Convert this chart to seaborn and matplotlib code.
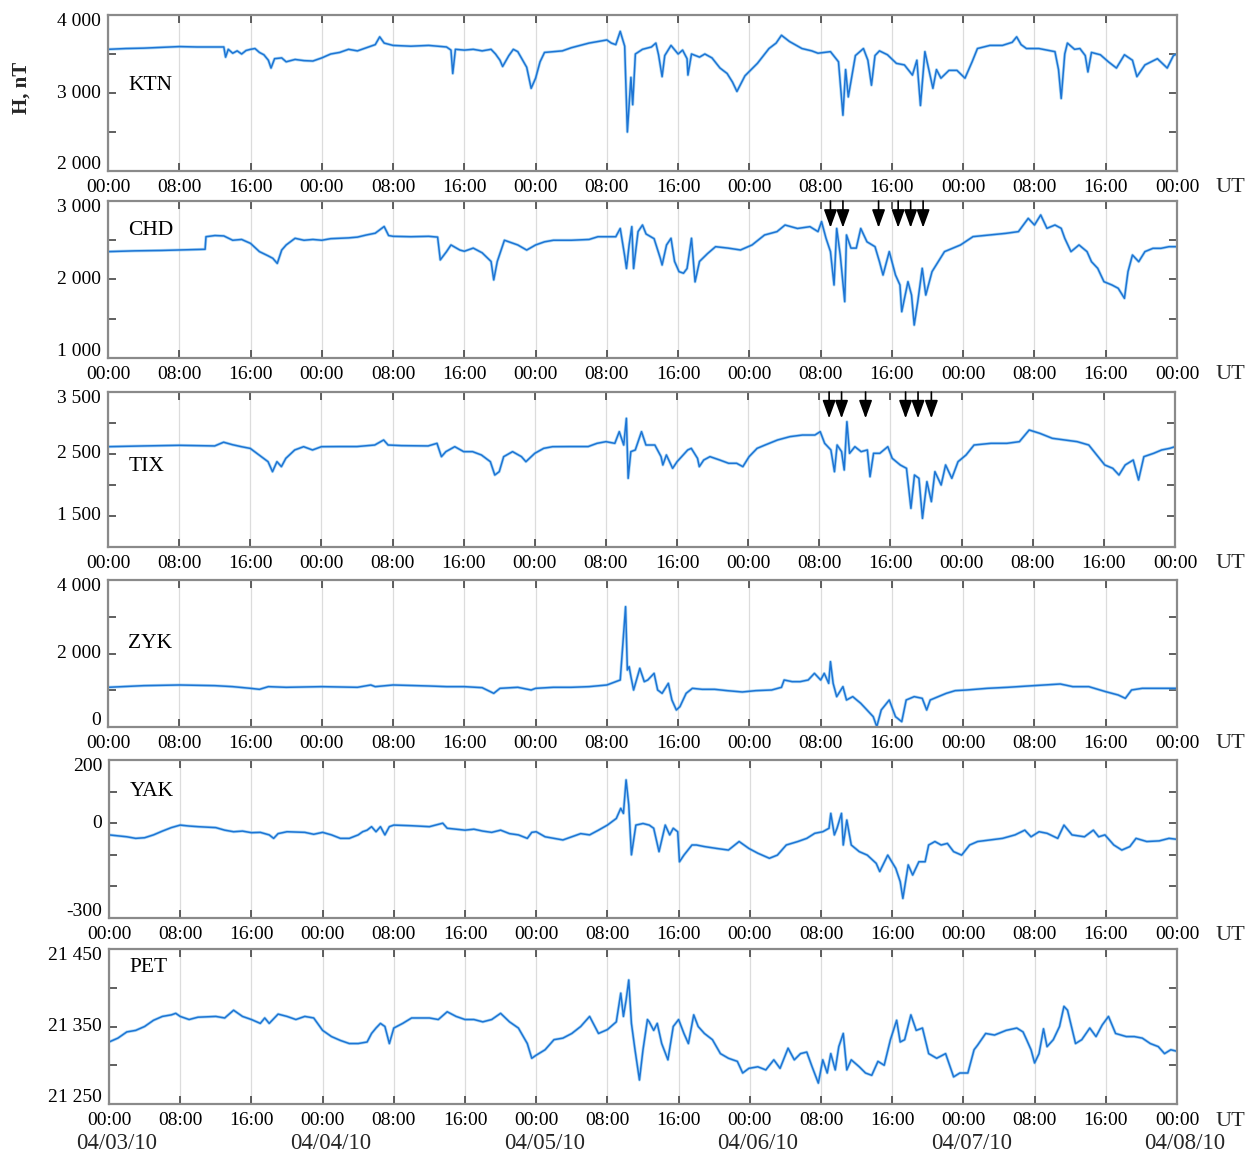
import matplotlib
matplotlib.use("Agg")
import matplotlib.pyplot as plt
import matplotlib.transforms as mtransforms
import seaborn as sns

sns.set_theme(style="white")
plt.rcParams["font.family"] = ["Liberation Serif", "DejaVu Serif"]

# Horizontal component H (nT), hours since 2010-04-03 00:00 UT
ktn = [(0, 3560), (2, 3570), (4, 3575), (6, 3585), (8, 3595), (10, 3590), (12, 3590), (13, 3590),
       (13.2, 3460), (13.5, 3560), (14, 3510), (14.5, 3540), (15, 3500), (15.5, 3545), (16, 3560),
       (16.5, 3570), (17, 3520), (17.5, 3490), (18, 3420), (18.3, 3320), (18.7, 3440), (19.5, 3450),
       (20, 3400), (21, 3430), (22, 3415), (23, 3410), (24, 3450), (25, 3500), (26, 3520), (27, 3560),
       (28, 3540), (29, 3580), (30, 3620), (30.5, 3720), (31, 3640), (32, 3610), (34, 3600), (36, 3610),
       (38, 3590), (38.5, 3550), (38.7, 3250), (39, 3560), (40, 3550), (41, 3560), (42, 3540), (43, 3560),
       (43.5, 3500), (44, 3420), (44.3, 3340), (45, 3480), (45.5, 3560), (46, 3530), (47, 3330),
       (47.5, 3060), (48, 3190), (48.5, 3400), (49, 3520), (50, 3530), (51, 3540), (52, 3580), (53, 3610),
       (54, 3640), (55, 3660), (56, 3680), (56.5, 3640), (57, 3620), (57.5, 3790), (58, 3600), (58.3, 2500),
       (58.7, 3200), (58.9, 2850), (59.2, 3500), (60, 3560), (61, 3590), (61.5, 3640), (61.8, 3490),
       (62.2, 3210), (62.5, 3480), (63.2, 3610), (64, 3500), (64.5, 3550), (65, 3440), (65.1, 3230),
       (65.5, 3500), (66.4, 3460), (67, 3500), (67.8, 3450), (68.7, 3320), (69.5, 3250), (70.1, 3140),
       (70.6, 3020), (71.5, 3220), (72.9, 3380), (74.2, 3570), (75, 3640), (75.6, 3740), (76.5, 3660),
       (77.9, 3570), (79, 3540), (79.7, 3510), (81.1, 3530), (82, 3400), (82.5, 2715), (82.8, 3300),
       (83.1, 2950), (83.9, 3480), (84.8, 3570), (85.3, 3420), (85.7, 3100), (86.1, 3480), (86.6, 3540),
       (87.5, 3490), (88.5, 3380), (89.4, 3360), (90.3, 3230), (90.8, 3420), (91.2, 2840), (91.7, 3530),
       (92.6, 3060), (93, 3300), (93.5, 3190), (94.4, 3290), (95.3, 3290), (96.2, 3190), (97, 3400),
       (97.6, 3570), (99, 3610), (100.4, 3610), (101.5, 3650), (102, 3720), (102.5, 3620), (103.1, 3570),
       (104.5, 3570), (106.3, 3530), (106.7, 3300), (107, 2930), (107.4, 3500), (107.7, 3640),
       (108.5, 3560), (109.1, 3570), (109.7, 3480), (110, 3270), (110.4, 3520), (111.4, 3490),
       (112.3, 3400), (113.2, 3320), (114.1, 3490), (115, 3420), (115.5, 3210), (116.4, 3360),
       (117.8, 3440), (118.9, 3320), (119.6, 3480), (120, 3500)]

chd = [(0, 2355), (3, 2365), (6, 2370), (9, 2380), (10.9, 2385), (11, 2545), (12, 2560), (13, 2555),
       (14, 2500), (15, 2510), (16, 2460), (17, 2355), (18, 2300), (18.5, 2270), (19, 2205), (19.5, 2375),
       (20, 2440), (21, 2525), (22, 2500), (23, 2510), (24, 2500), (25, 2520), (26, 2525), (27, 2530),
       (28, 2540), (29, 2567), (30, 2590), (31, 2675), (31.5, 2560), (32, 2550), (34, 2545), (36, 2550),
       (37, 2540), (37.3, 2250), (38, 2355), (38.5, 2440), (39.5, 2375), (40, 2360), (41, 2400),
       (42, 2340), (43, 2230), (43.3, 1995), (43.7, 2230), (44.5, 2500), (45, 2480), (46, 2440),
       (47, 2375), (48, 2440), (49, 2480), (50, 2500), (52, 2500), (54, 2510), (55, 2545), (57, 2545),
       (57.5, 2650), (58, 2300), (58.2, 2140), (58.5, 2440), (58.8, 2673), (59, 2140), (59.5, 2610),
       (60, 2694), (60.4, 2580), (61.3, 2520), (62, 2270), (62.2, 2185), (62.7, 2440), (63.2, 2525),
       (63.6, 2230), (64.1, 2100), (64.6, 2080), (65, 2140), (65.5, 2525), (65.9, 1970), (66.4, 2230),
       (67.3, 2330), (68.2, 2418), (69.6, 2400), (71, 2376), (72.3, 2440), (73.7, 2567), (75.1, 2610),
       (76, 2694), (77.4, 2650), (78.8, 2673), (79.7, 2610), (80.1, 2737), (80.6, 2525), (81.1, 2355),
       (81.5, 1930), (81.8, 2650), (82.2, 2310), (82.7, 1718), (82.9, 2567), (83.4, 2400), (84, 2400),
       (84.5, 2650), (85.2, 2480), (86.1, 2418), (86.6, 2227), (87, 2057), (87.7, 2355), (88.4, 2057),
       (88.9, 1930), (89.1, 1590), (89.8, 1972), (90.2, 1802), (90.5, 1420), (90.9, 1717), (91.4, 2142),
       (91.8, 1802), (92.5, 2100), (93.2, 2227), (93.9, 2355), (94.8, 2397), (95.7, 2440), (97.1, 2546),
       (99, 2567), (100.8, 2588), (102.2, 2610), (103.3, 2779), (104, 2694), (104.7, 2822), (105.4, 2652),
       (106.3, 2694), (107, 2652), (107.4, 2525), (108.1, 2355), (109, 2440), (109.9, 2355), (110.4, 2227),
       (111.1, 2142), (111.8, 1972), (112.7, 1930), (113.4, 1888), (114.1, 1760), (114.5, 2100),
       (115, 2312), (115.7, 2227), (116.4, 2355), (117.3, 2397), (118.2, 2397), (119.1, 2418), (120, 2418)]

tix = [(0, 2618), (4, 2630), (8, 2640), (12, 2630), (13, 2690), (14, 2650), (15, 2618), (16, 2590),
       (17, 2484), (18, 2376), (18.5, 2215), (19, 2376), (19.5, 2296), (20, 2430), (21, 2565), (22, 2618),
       (23, 2565), (24, 2618), (26, 2620), (28, 2620), (30, 2645), (31, 2726), (31.5, 2645), (33, 2635),
       (36, 2630), (37, 2672), (37.5, 2457), (38, 2538), (39, 2618), (40, 2538), (41, 2538), (42, 2484),
       (43, 2376), (43.5, 2161), (44, 2215), (44.5, 2457), (45.5, 2538), (46.5, 2457), (47, 2376),
       (48, 2511), (49, 2591), (50, 2618), (52, 2620), (54, 2620), (55, 2672), (56, 2699), (57, 2672),
       (57.5, 2860), (58, 2645), (58.3, 3075), (58.5, 2108), (58.8, 2538), (59.3, 2565), (60, 2860),
       (60.5, 2645), (61.5, 2645), (62.2, 2457), (62.4, 2323), (62.8, 2484), (63.5, 2269), (64, 2376),
       (65.2, 2565), (65.6, 2591), (66.3, 2430), (66.5, 2296), (67, 2403), (67.7, 2457), (68.8, 2403),
       (69.8, 2350), (70.7, 2350), (71.4, 2296), (72.1, 2457), (73, 2591), (73.9, 2645), (75.3, 2726),
       (76.7, 2780), (78.1, 2806), (79.5, 2806), (80.1, 2860), (80.6, 2672), (81.3, 2565), (81.7, 2215),
       (82, 2645), (82.5, 2538), (82.8, 2242), (83.1, 3021), (83.4, 2511), (84, 2618), (84.7, 2538),
       (85.4, 2565), (85.7, 2134), (86.1, 2511), (86.8, 2511), (87.7, 2618), (88.2, 2430), (89.1, 2323),
       (89.8, 2269), (90.3, 1624), (90.7, 2161), (91.2, 2108), (91.6, 1462), (92.1, 2054), (92.6, 1732),
       (93, 2215), (93.7, 2000), (94.2, 2323), (94.9, 2108), (95.6, 2376), (96.5, 2484), (97.4, 2645),
       (99.3, 2672), (101.1, 2672), (102.5, 2699), (103.6, 2887), (104.8, 2833), (106.2, 2753),
       (107.6, 2726), (109, 2699), (110.3, 2645), (111.2, 2484), (112.1, 2323), (113, 2269), (113.7, 2161),
       (114.4, 2323), (115.3, 2403), (115.9, 2081), (116.5, 2457), (117.6, 2511), (118.5, 2565),
       (119.4, 2591), (120, 2618)]

zyk = [(0, 1080), (4, 1125), (8, 1143), (12, 1125), (14, 1098), (16, 1052), (17, 1025), (18, 1098),
       (20, 1080), (24, 1098), (28, 1080), (29.5, 1143), (30, 1098), (32, 1143), (36, 1116), (38, 1098),
       (40, 1098), (42, 1070), (43.3, 916), (44, 1052), (46, 1080), (47.5, 1007), (48, 1052), (50, 1080),
       (52, 1080), (54, 1098), (56, 1143), (57.5, 1279), (58.1, 3274), (58.3, 1551), (58.5, 1642),
       (58.7, 1370), (59, 1007), (59.7, 1596), (60.2, 1234), (60.6, 1280), (61.3, 1460), (61.7, 1007),
       (62.2, 916), (62.9, 1188), (63.3, 735), (63.8, 463), (64.2, 553), (64.9, 916), (65.6, 1052),
       (66.7, 1025), (68.1, 1025), (69.5, 989), (71.2, 953), (72.7, 989), (74.5, 1007), (75.6, 1080),
       (75.9, 1279), (76.8, 1234), (77.7, 1234), (78.6, 1279), (79.3, 1460), (80, 1279), (80.4, 1460),
       (80.9, 1188), (81.1, 1778), (81.4, 1188), (81.8, 826), (82.5, 1098), (82.9, 735), (83.6, 826),
       (84.5, 644), (85.2, 463), (85.9, 281), (86.3, 9), (86.8, 463), (87.7, 735), (88.4, 281), (89.1, 145),
       (89.6, 735), (90.5, 826), (91.4, 780), (91.9, 463), (92.3, 735), (93.2, 826), (94.1, 916),
       (95.1, 989), (96.4, 1007), (98.7, 1052), (101, 1080), (103.3, 1116), (105.1, 1143), (106.9, 1170),
       (108.3, 1098), (110.1, 1098), (112, 961), (113.4, 871), (114.2, 780), (114.9, 1007), (116.1, 1052),
       (117.9, 1052), (120, 1052)]

yak = [(0, -37), (2, -43), (3, -48), (4, -46), (5, -37), (6, -25), (7, -14), (8, -6), (9, -9), (10, -11),
       (12, -14), (13, -22), (14, -27), (15, -25), (16, -30), (17, -29), (18, -37), (18.5, -48), (19, -33),
       (20, -27), (22, -29), (23, -35), (24, -29), (25, -37), (26, -48), (27, -48), (28, -37), (28.5, -27),
       (29, -22), (29.5, -11), (30, -27), (30.5, -11), (31, -37), (31.5, -11), (32, -6), (34, -8), (36, -11),
       (37.5, 0), (38, -16), (40, -22), (41, -19), (42, -25), (43, -29), (44, -22), (45, -33), (46, -37),
       (47, -48), (47.5, -29), (48, -27), (49, -43), (50, -48), (51, -53), (52, -43), (53, -33), (54, -37),
       (55, -22), (56, -6), (57, 15), (57.5, 47), (57.8, 31), (58.1, 137), (58.4, 58), (58.7, -100),
       (59.2, -6), (60, -1), (60.7, -6), (61.2, -16), (61.8, -90), (62.5, -6), (63, -37), (63.4, -16),
       (63.9, -27), (64.1, -122), (64.6, -101), (65.5, -69), (66, -69), (66.9, -74), (68.3, -80),
       (69.6, -85), (70.8, -58), (71.9, -80), (72.9, -95), (74.2, -111), (75.1, -101), (76.1, -69),
       (77.4, -58), (78.4, -48), (79.3, -32), (80.2, -27), (80.9, -16), (81.1, 31), (81.5, -37),
       (81.8, -16), (82.3, 31), (82.5, -69), (82.9, 10), (83.4, -69), (84.3, -90), (85.2, -101),
       (86.2, -127), (86.6, -153), (87.5, -101), (88.4, -143), (88.9, -185), (89.2, -238), (89.8, -132),
       (90.3, -164), (91, -122), (91.7, -122), (92.1, -69), (92.8, -58), (93.5, -69), (94.2, -64),
       (94.9, -90), (95.8, -101), (96.7, -69), (97.6, -58), (99, -53), (100.4, -48), (101.8, -37),
       (102.9, -22), (103.6, -43), (104.5, -27), (105.4, -32), (106.6, -48), (107.3, -6), (108.2, -37),
       (109.6, -43), (110.6, -22), (111.2, -43), (111.9, -37), (112.9, -69), (113.8, -85), (114.7, -74),
       (115.4, -48), (116.6, -58), (118, -56), (119.1, -48), (120, -51)]

pet = [(0, 21330), (1, 21335), (2, 21343), (3, 21345), (4, 21350), (5, 21358), (6, 21363), (7, 21365),
       (7.5, 21367), (8, 21363), (9, 21359), (10, 21362), (12, 21363), (13, 21361), (14, 21371),
       (15, 21363), (16, 21359), (17, 21354), (17.5, 21361), (18, 21354), (19, 21366), (20, 21363),
       (21, 21359), (22, 21363), (23, 21361), (24, 21345), (25, 21337), (26, 21332), (27, 21328),
       (28, 21328), (29, 21330), (29.5, 21341), (30, 21348), (30.5, 21354), (31, 21350), (31.5, 21328),
       (32, 21348), (33, 21354), (34, 21361), (36, 21361), (37, 21359), (38, 21369), (39, 21363),
       (40, 21359), (41, 21359), (42, 21356), (43, 21359), (44, 21367), (45, 21356), (46, 21348),
       (47, 21328), (47.5, 21309), (48, 21313), (49, 21320), (50, 21333), (51, 21335), (52, 21341),
       (53, 21350), (54, 21363), (55, 21341), (56, 21346), (57, 21356), (57.5, 21393), (57.8, 21363),
       (58.1, 21384), (58.4, 21410), (58.7, 21354), (59.1, 21320), (59.6, 21281), (60, 21320),
       (60.5, 21359), (60.7, 21356), (61.2, 21345), (61.6, 21354), (62.1, 21328), (62.8, 21307),
       (63.4, 21350), (64, 21359), (64.6, 21341), (65.1, 21328), (65.7, 21365), (66.2, 21350),
       (66.9, 21341), (67.8, 21333), (68.7, 21315), (69.6, 21309), (70.6, 21305), (71.2, 21290),
       (71.9, 21296), (72.9, 21298), (73.8, 21294), (74.7, 21307), (75.4, 21296), (76.3, 21322),
       (77, 21307), (77.7, 21315), (78.4, 21317), (79, 21298), (79.7, 21277), (80.2, 21307),
       (80.7, 21290), (81.1, 21315), (81.6, 21294), (82, 21324), (82.5, 21341), (82.9, 21294),
       (83.4, 21307), (84.3, 21298), (85, 21290), (85.7, 21287), (86.4, 21305), (87.1, 21300),
       (87.8, 21333), (88.5, 21358), (88.9, 21330), (89.4, 21333), (90.1, 21365), (90.7, 21345),
       (91.4, 21348), (92.1, 21315), (93, 21309), (94, 21315), (94.9, 21285), (95.6, 21290),
       (96.5, 21290), (97.2, 21320), (97.6, 21326), (98.5, 21341), (99.5, 21339), (100.8, 21345),
       (102, 21348), (102.7, 21343), (103.1, 21333), (103.6, 21320), (104, 21303), (104.5, 21315),
       (105, 21347), (105.4, 21324), (106.1, 21333), (106.8, 21350), (107.3, 21376), (107.7, 21371),
       (108.6, 21328), (109.3, 21333), (110.2, 21348), (110.9, 21337), (111.6, 21352), (112.3, 21363),
       (113.1, 21341), (114.3, 21337), (115.2, 21337), (116.1, 21335), (117, 21328), (117.9, 21324),
       (118.6, 21315), (119.3, 21320), (120, 21318)]

station_names = ["KTN", "CHD", "TIX", "ZYK", "YAK", "PET"]
station_series = [ktn, chd, tix, zyk, yak, pet]
y_limits = [(2000, 4000), (1000, 3000), (1000, 3500), (0, 4000), (-300, 200), (21250, 21450)]
y_labelled = [[2000, 3000, 4000], [1000, 2000, 3000], [1500, 2500, 3500],
              [0, 2000, 4000], [-300, 0, 200], [21250, 21350, 21450]]
y_step = [500, 500, 500, 1000, 100, 50]

time_ticks = list(range(0, 121, 8))
time_tick_labels = ["00:00", "08:00", "16:00"] * 5 + ["00:00"]
date_labels = ["04/03/10", "04/04/10", "04/05/10", "04/06/10", "04/07/10", "04/08/10"]

# Marked event times (hours) on CHD and TIX
chd_event_hours = [81.1, 82.5, 86.5, 88.7, 90.1, 91.5]
tix_event_hours = [81.1, 82.5, 85.2, 89.7, 91.1, 92.6]

W, H = 1259, 1156
fig = plt.figure(figsize=(W / 100, H / 100), dpi=100)
fig.patch.set_facecolor("white")

# panel frames in pixels: left, top, right, bottom
frames = [(108, 15, 1177, 171), (108, 201, 1177, 358), (108, 392, 1175, 547),
          (108, 580, 1177, 727), (109, 760, 1177, 918), (109, 949, 1177, 1104)]
name_pos = [0.55, 0.81, 0.52, 0.57, 0.80, 0.88]

line_color = "#1d74d4"
spine_color = "#8a8a8a"
fs_tick = 14

axes = []
for i, (name, series) in enumerate(zip(station_names, station_series)):
    l, t, r, b = frames[i]
    ax = fig.add_axes([l / W, 1 - b / H, (r - l) / W, (b - t) / H])
    axes.append(ax)
    hours = [p[0] for p in series]
    values = [p[1] for p in series]
    sns.lineplot(x=hours, y=values, ax=ax, color="#5ab0ec", lw=2.2, alpha=0.5,
                 estimator=None, sort=False, legend=False)
    sns.lineplot(x=hours, y=values, ax=ax, color=line_color, lw=1.1,
                 estimator=None, sort=False, legend=False)

    lo, hi = y_limits[i]
    ax.set_xlim(0, 120)
    ax.set_ylim(lo, hi)
    ax.set_xlabel("")
    ax.set_ylabel("")

    ax.set_xticks(time_ticks)
    ax.set_xticklabels(time_tick_labels, fontsize=fs_tick)
    ticks = list(range(lo, hi + 1, y_step[i]))
    ax.set_yticks(ticks)
    ax.set_yticklabels([])
    ax.tick_params(axis="x", direction="in", length=6, width=1.2, color="#444444",
                   top=True, bottom=True, pad=6, labelcolor="black")
    ax.tick_params(axis="y", direction="in", length=6, width=1.2, color="#444444",
                   left=True, right=True)
    ax.grid(axis="x", color="#dcdcdc", lw=0.9)
    ax.grid(axis="y", visible=False)
    for sp in ax.spines.values():
        sp.set_color(spine_color)
        sp.set_linewidth(1.6)

    # y labels drawn as text so the edge labels sit inside the frame
    for v in y_labelled[i]:
        if v == hi:
            dy = -5
        elif v == lo:
            dy = 5
        else:
            dy = 0
        txt = f"{v:,}".replace(",", " ")
        ax.annotate(txt, xy=(0, v), xycoords=("axes fraction", "data"),
                    xytext=(-5, dy), textcoords="offset points",
                    ha="right", va="center", fontsize=fs_tick, color="black")

    ax.text(0.019, name_pos[i], name, transform=ax.transAxes, fontsize=15.5,
            ha="left", va="center", color="black")

    fig.text(1230 / W, 1 - (b + 17) / H, "UT", ha="center", va="center", fontsize=16)

# event arrows
for ax, ev, (lo, hi), frac in [(axes[1], chd_event_hours, y_limits[1], 0.17),
                               (axes[2], tix_event_hours, y_limits[2], 0.17)]:
    tip = hi - frac * (hi - lo)
    for h in ev:
        ax.annotate("", xy=(h, tip), xytext=(h, hi),
                    arrowprops=dict(arrowstyle="-|>,head_length=0.55,head_width=0.2",
                                    color="black", lw=1.2, shrinkA=0, shrinkB=0,
                                    mutation_scale=20),
                    annotation_clip=False)

# dates under the bottom panel
bottom_ax = axes[-1]
trans = mtransforms.blended_transform_factory(bottom_ax.transData, bottom_ax.transAxes)
for k, lab in enumerate(date_labels):
    bottom_ax.text(24 * k + 0.9, -0.255, lab, transform=trans, ha="center", va="center",
                   fontsize=16.5, clip_on=False)

fig.text(22 / W, 1 - 88 / H, "H, nT", rotation=90, ha="center", va="center",
         fontsize=15, fontweight="bold")

fig.savefig("out.png", dpi=100, facecolor="white")
